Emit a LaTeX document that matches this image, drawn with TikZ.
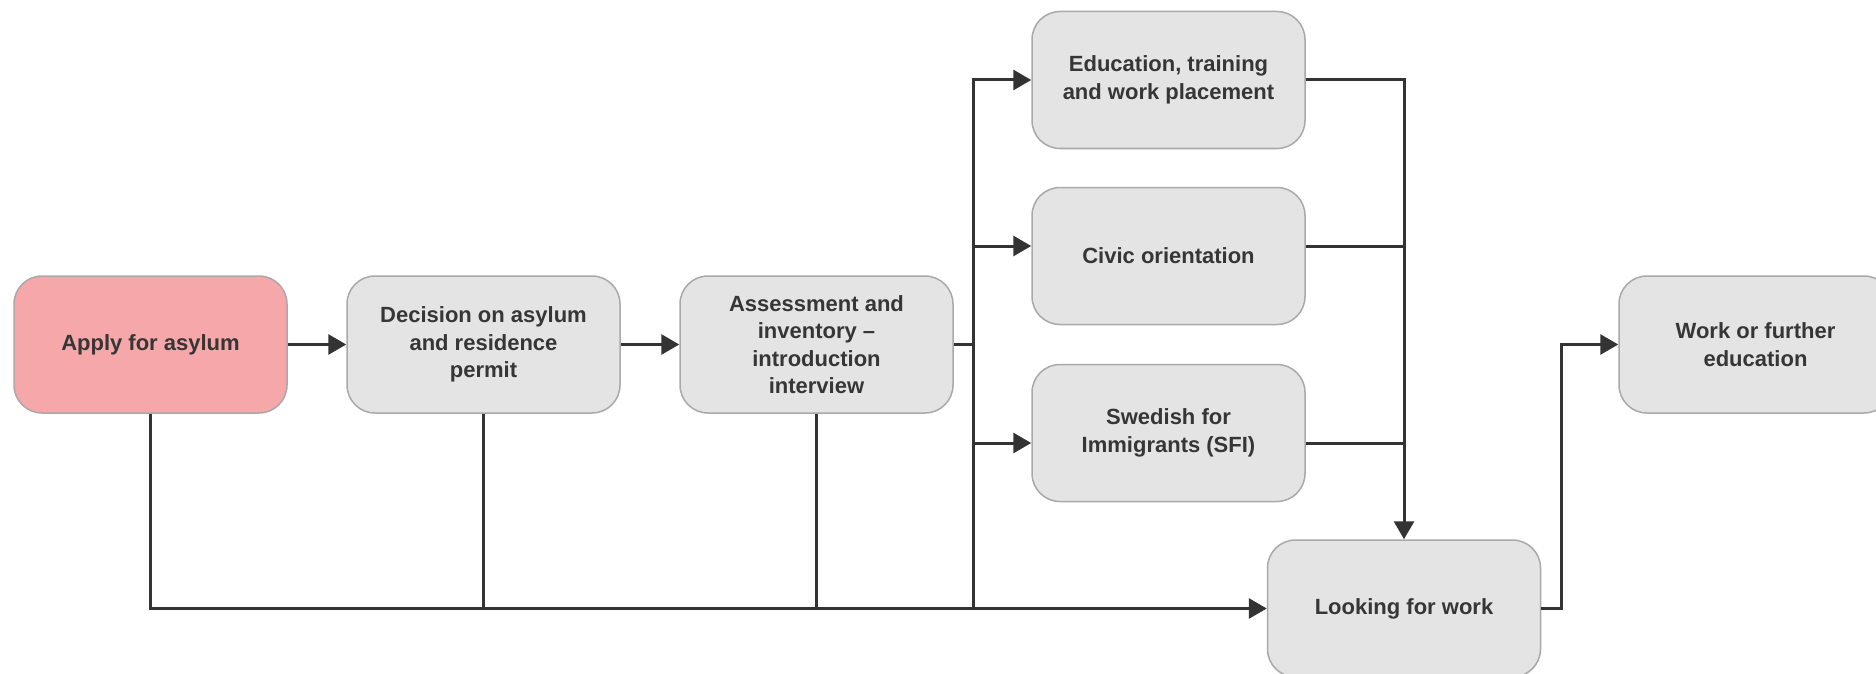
\documentclass[tikz,border=0pt]{standalone}
\usepackage{fontspec}
\setmainfont{Liberation Sans}
\usetikzlibrary{arrows.meta}
\definecolor{boxfill}{HTML}{E4E4E4}
\definecolor{boxline}{HTML}{A9A9A9}
\definecolor{pinkfill}{HTML}{F5A7A9}
\definecolor{wire}{HTML}{333333}
\definecolor{txt}{HTML}{363636}
\begin{document}
\begin{tikzpicture}[x=1pt,y=-1pt,
  stage/.style={draw=boxline, line width=1.5pt, fill=boxfill, rounded corners=28pt,
    minimum width=273pt, minimum height=137pt, inner sep=0pt, align=center, text=txt,
    font=\fontsize{22}{27.5}\selectfont\bfseries},
  wireline/.style={draw=wire, line width=3pt},
  arr/.style={wireline, -{Triangle[length=18pt,width=20pt]}}]
\useasboundingbox (0,0) rectangle (1876,674);
\clip (0,0) rectangle (1876,674);
\fill[white] (0,0) rectangle (1876,674);

\node[stage, fill=pinkfill] (apply) at (150.5,344.5) {Apply for asylum};
\node[stage] (dec) at (483.5,344.5) {Decision on asylum\\and residence\\permit};
\node[stage] (ass) at (816.5,344.5) {Assessment and\\inventory --\\introduction\\interview};
\node[stage] (edu) at (1168.5,80) {Education, training\\and work placement};
\node[stage] (civ) at (1168.5,256) {Civic orientation};
\node[stage] (sfi) at (1168.5,433) {Swedish for\\Immigrants (SFI)};
\node[stage] (look) at (1404,608.5) {Looking for work};
\node[stage] (work) at (1755.5,344.5) {Work or further\\education};

\coordinate (bustop) at (973,80);
\coordinate (busbot) at (973,608.5);
\coordinate (civin) at (973,246);
\coordinate (sfiin) at (973,443);
\coordinate (coltop) at (1404,80);
\coordinate (outx) at (1561,608.5);

\draw[arr] (apply) -- (dec);
\draw[arr] (dec) -- (ass);
\draw[wireline] (ass.east) -- (ass.east -| bustop);
\draw[arr] (busbot) -- (bustop) -- (edu.west);
\draw[arr] (civin) -- (civin -| civ.west);
\draw[arr] (sfiin) -- (sfiin -| sfi.west);

\draw[arr] (edu.east) -- (coltop) -- (look.north);
\draw[wireline] (civ.east |- civin) -- (civin -| coltop);
\draw[wireline] (sfi.east |- sfiin) -- (sfiin -| coltop);

\draw[arr] (apply.south) -- (apply.south |- look.west) -- (look.west);
\draw[wireline] (dec.south) -- (dec.south |- look.west);
\draw[wireline] (ass.south) -- (ass.south |- look.west);

\draw[arr] (look.east) -- (outx) -- (outx |- work.west) -- (work.west);
\end{tikzpicture}
\end{document}
